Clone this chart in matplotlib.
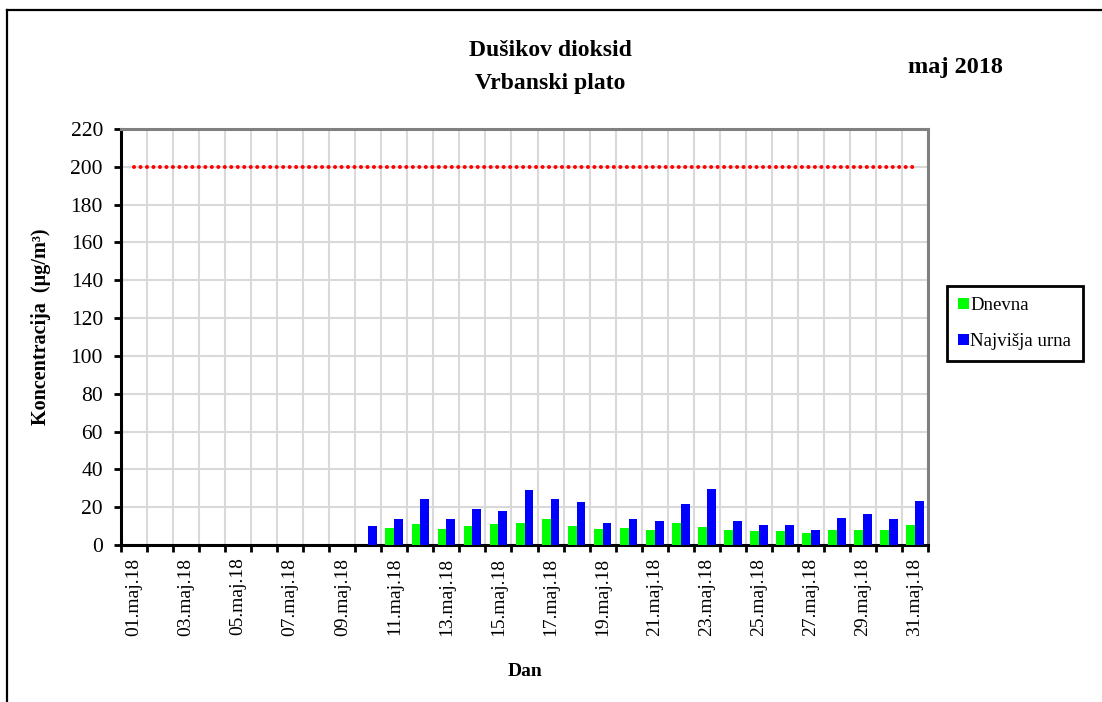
import numpy as np
import matplotlib
matplotlib.use("Agg")
import matplotlib.pyplot as plt
from matplotlib.lines import Line2D

plt.rcParams['font.family'] = ['Liberation Serif', 'DejaVu Serif']

# podatki - maj 2018, NO2 Vrbanski plato
dnevi = [f"{d:02d}.maj.18" for d in range(1, 32)]
nan = np.nan
dnevna = [nan] * 9 + [nan, 8.9, 10.9, 8.2, 9.8, 10.9, 11.6, 13.6, 9.8, 8.2, 8.9,
                      8.1, 11.5, 9.7, 8.1, 7.2, 7.2, 6.1, 8.1, 8.1, 8.1, 10.8]
najvisja_urna = [nan] * 9 + [9.8, 13.6, 24.4, 13.6, 18.9, 18.0, 28.9, 24.4, 22.5, 11.6, 13.6,
                             12.6, 21.6, 29.5, 12.6, 10.8, 10.8, 8.1, 14.2, 16.2, 13.5, 23.4]
mejna_vrednost = [200] * 31

x = np.arange(len(dnevi))
w = 0.34

fig = plt.figure(figsize=(11.02, 7.02), dpi=100)
ax = fig.add_axes([121 / 1102, 1 - 545 / 702, 807 / 1102, 416 / 702])

ax.bar(x - w / 2, dnevna, width=w, color='#00FF00', label='Dnevna', zorder=3)
ax.bar(x + w / 2, najvisja_urna, width=w, color='#0000FF', label='Najvišja urna', zorder=3)
ax.plot(x, mejna_vrednost, color='#FF0000', lw=2.9, linestyle=(0, (0.01, 1.6)),
        dash_capstyle='round', zorder=4)

ax.set_xlim(-0.5, 30.5)
ax.set_ylim(0, 220)
ax.set_yticks(np.arange(0, 221, 20))
ax.set_xticks(x[::2])
ax.set_xticklabels(dnevi[::2], rotation=90, fontsize=14)
ax.set_xticks(np.arange(-0.5, 31, 1), minor=True)
ax.tick_params(axis='x', which='major', length=0, pad=9)
ax.tick_params(axis='x', which='minor', length=5, width=2, direction='out')
ax.tick_params(axis='y', length=5, width=2, labelsize=15.5, pad=8)

ax.grid(axis='y', which='major', color='#D9D9D9', lw=1.5, zorder=0)
ax.grid(axis='x', which='minor', color='#D9D9D9', lw=1.5, zorder=0)
ax.set_axisbelow(True)

for s in ['left', 'bottom']:
    ax.spines[s].set_linewidth(2.2)
    ax.spines[s].set_color('black')
for s in ['top', 'right']:
    ax.spines[s].set_linewidth(2.2)
    ax.spines[s].set_color('#808080')

ax.set_ylabel('Koncentracija  (µg/m³)', fontsize=14.5, fontweight='bold')
ax.yaxis.set_label_coords(-0.087, 0.525)
fig.text(525 / 1102, 1 - 672 / 702, 'Dan', fontsize=14, fontweight='bold', ha='center', va='center')

fig.text(550 / 1102, 1 - 50 / 702, 'Dušikov dioksid', fontsize=17, fontweight='bold', ha='center', va='center')
fig.text(550 / 1102, 1 - 83 / 702, 'Vrbanski plato', fontsize=17, fontweight='bold', ha='center', va='center')
fig.text(955 / 1102, 1 - 68 / 702, 'maj 2018', fontsize=17.5, fontweight='bold', ha='center', va='center')

leg = fig.legend(loc='upper left', bbox_to_anchor=(947 / 1102, 1 - 286 / 702), fontsize=13.5,
                 frameon=True, fancybox=False, edgecolor='black', framealpha=1,
                 handlelength=0.55, handleheight=0.55, handletextpad=0.1, labelspacing=1.0,
                 borderpad=0.6, borderaxespad=0)
leg.get_frame().set_linewidth(2)

# okvir grafa (zgoraj in levo)
fig.add_artist(Line2D([7 / 1102, 1.0], [1 - 10 / 702, 1 - 10 / 702], color='black', lw=1.6))
fig.add_artist(Line2D([7 / 1102, 7 / 1102], [0, 1 - 10 / 702], color='black', lw=1.6))

fig.savefig('out.png', dpi=100)
